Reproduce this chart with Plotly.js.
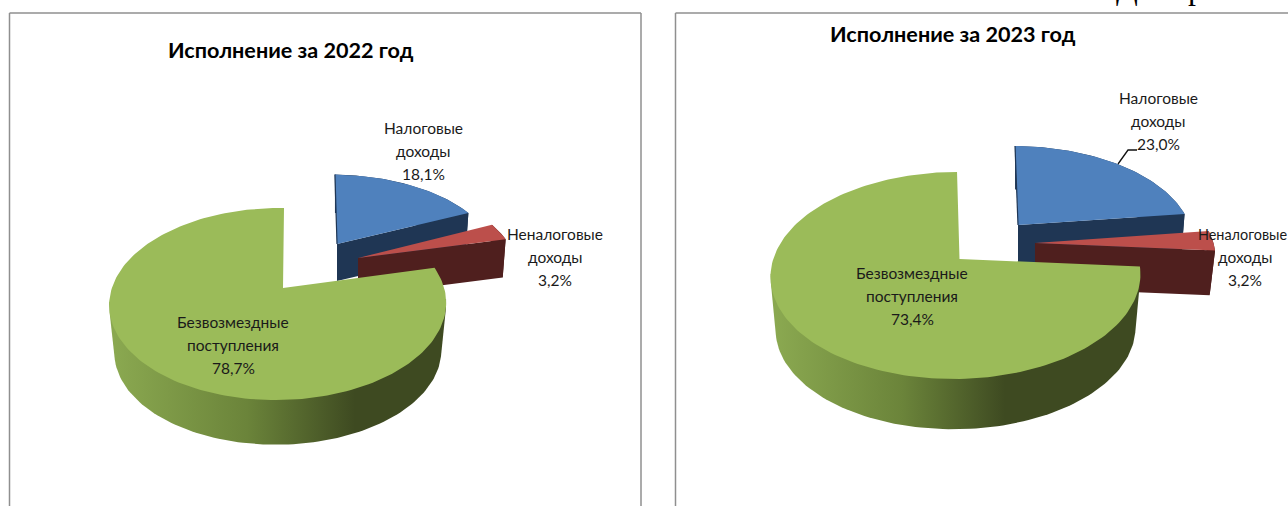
<!DOCTYPE html>
<html><head><meta charset="utf-8">
<script src="https://cdn.plot.ly/plotly-3.0.1.min.js"></script>
<style>html,body{margin:0;padding:0;background:#fff;overflow:hidden}#c{width:1288px;height:506px}</style>
</head><body><div id="c"></div>
<script>
const categories = ["Налоговые доходы", "Неналоговые доходы", "Безвозмездные поступления"];
const values2022 = [18.1, 3.2, 78.7];
const values2023 = [23.0, 3.2, 73.4];
const titles = ["Исполнение за 2022 год", "Исполнение за 2023 год"];
const labelLines = [["Налоговые","доходы"],["Неналоговые","доходы"],["Безвозмездные","поступления"]];
const pageText = ["Д","р"];

const FONT = 'Lato, "Open Sans", "Noto Sans", sans-serif';
const topCol = ["#4f81bd","#bc4f4b","#9bbb59"];
const sideCol = ["#1f3654","#4f1f1e"];
const greenSide = [[0,"#8aa850"],[0.55,"#6b843a"],[1,"#3e4a21"]];

// projected geometry of each exploded slice (pixel scale of the axes)
const geo2022 = [
 {cx:337,cy:244,Rx:160,Ry:81,k:.167,m:-.03,sh:.03,d:37,s:.98},
 {cx:358,cy:258,Rx:162,Ry:87,k:.167,m:-.03,sh:0,d:38,s:.98},
 {cx:283,cy:288,Rx:166,Ry:93.3,k:.167,m:-.03,sh:-.0125,d:48,s:.97,gs:115,ge:355}
];
const geo2023 = [
 {cx:1018,cy:225,Rx:175,Ry:91.6,k:.159,m:-.02,sh:.038,d:42,s:.98},
 {cx:1035,cy:243,Rx:182,Ry:100,k:.159,m:-.02,sh:0,d:45,s:.97},
 {cx:959.5,cy:259,Rx:182.5,Ry:100.9,k:.159,m:-.02,sh:-.017,d:53.5,s:.973,gs:777,ge:1005}
];
const labelPos2022 = [[423,128],[555,234],[233,322]];
const labelPos2023 = [[1158,98],[1245,234],[912,273]];
const titlePos = [[291,50],[953,34]];
const pageTextX = [1127,1196];
const LINE = 23;

function pt(p,deg,bottom){
  const a=deg*Math.PI/180,u=Math.sin(a),v=-Math.cos(a),w=1-p.k*v-p.m*u;
  const dy=p.Ry*v/w,dx=p.Rx*u/w+p.sh*dy;
  return bottom?[p.cx+p.s*dx,p.cy+p.d+p.s*dy]:[p.cx+dx,p.cy+dy];
}
function arc(p,a0,a1,bottom){
  const n=Math.max(6,Math.ceil(Math.abs(a1-a0)/1.5)),o=[];
  for(let i=0;i<=n;i++)o.push(pt(p,a0+(a1-a0)*i/n,bottom));
  return o;
}
function hull(points){
  const s=points.slice().sort((a,b)=>a[0]-b[0]||a[1]-b[1]);
  const cr=(o,a,b)=>(a[0]-o[0])*(b[1]-o[1])-(a[1]-o[1])*(b[0]-o[0]);
  const half=list=>{const h=[];list.forEach(q=>{while(h.length>1&&cr(h[h.length-2],h[h.length-1],q)<=0)h.pop();h.push(q);});h.pop();return h;};
  return half(s).concat(half(s.slice().reverse()));
}
function poly(points,color,extra){
  const c=points.concat([points[0]]);
  return Object.assign({type:"scatter",mode:"lines",x:c.map(q=>q[0]),y:c.map(q=>q[1]),
    fill:"toself",fillcolor:color,line:{width:0,color:color},hoverinfo:"skip"},extra||{});
}
function pieTraces(values,geo){
  const tr=[];let acc=0;const ang=values.map(v=>{const r=[acc,acc+v*3.6];acc+=v*3.6;return r;});
  [0,1].forEach(i=>{
    const p=geo[i],[a0,a1]=ang[i];
    const apexT=[p.cx,p.cy],apexB=[p.cx,p.cy+p.d];
    tr.push(poly(arc(p,a0,a1,false).concat(arc(p,a1,a0,true)),sideCol[i]));
    tr.push(poly([apexT,pt(p,a1,false),pt(p,a1,true),apexB],sideCol[i]));
    tr.push(poly([apexT].concat(arc(p,a0,a1,false)),topCol[i]));
    if(i===0){const e=pt(p,a0,false);tr.push({type:"scatter",mode:"lines",x:[apexT[0],e[0]],y:[apexT[1],e[1]],line:{color:sideCol[0],width:1.2},hoverinfo:"skip"});}
  });
  const p=geo[2],[a0,a1]=ang[2];
  const f0=Math.max(a0,97),f1=262;
  tr.push(poly(hull(arc(p,f0,f1,false).concat(arc(p,f0,f1,true))),"#3e4a21",
    {fillgradient:{type:"horizontal",start:p.gs,stop:p.ge,colorscale:greenSide}}));
  tr.push(poly([[p.cx,p.cy]].concat(arc(p,a0,a1,false)),topCol[2]));
  return tr;
}
function fmt(v){return v.toFixed(1).replace(".",",")+"%";}
function textAnn(text,x,y,size,bold,font,color,ya){
  return {text:bold?"<b>"+text+"</b>":text,x:x,y:y,xref:"x",yref:"y",showarrow:false,xanchor:"center",yanchor:ya||"middle",
    font:{family:font||FONT,size:size,color:color||"#1a1a1a"},captureevents:false};
}
const annotations=[];
[[values2022,labelPos2022],[values2023,labelPos2023]].forEach(([vals,pos],c)=>{
  vals.forEach((v,i)=>{
    const ls=labelLines[i].concat([fmt(v)]);
    ls.forEach((t,j)=>{
      const tight=c===1&&i===1&&j===0;   // the label that reaches the right edge
      annotations.push(textAnn(t,pos[i][0]-(tight?2.5:0),pos[i][1]+j*LINE,tight?14.4:15.5));
    });
  });
  annotations.push(textAnn(titles[c],titlePos[c][0],titlePos[c][1],21.6,true,FONT,"#000"));
});
pageText.forEach((t,i)=>annotations.push(textAnn(t,pageTextX[i],8,32,false,"Liberation Serif","#000","bottom")));
// leader line on the 2023 chart
const leaderX=[1118,1128,1137],leaderY=[164,150,150];
const traces=[].concat(pieTraces(values2022,geo2022),pieTraces(values2023,geo2023),
  [{type:"scatter",mode:"lines",x:leaderX,y:leaderY,line:{color:"#111",width:1.3},hoverinfo:"skip"}]);
const frame={type:"line",xref:"x",yref:"y",line:{color:"#8f8f8f",width:1.5}};
const shapes=[[9.5,13,9.5,506],[9.5,13,641,13],[641,13,641,506],[675.5,13,675.5,506],[675.5,13,1288,13]]
  .map(s=>Object.assign({},frame,{x0:s[0],y0:s[1],x1:s[2],y1:s[3]}));
const axis={visible:false,fixedrange:true,showgrid:false,zeroline:false};
Plotly.newPlot("c",traces,{
  width:1288,height:506,margin:{l:0,r:0,t:0,b:0},showlegend:false,paper_bgcolor:"#fff",plot_bgcolor:"#fff",
  xaxis:Object.assign({range:[0,1288]},axis),yaxis:Object.assign({range:[506,0]},axis),
  shapes:shapes,annotations:annotations
},{displayModeBar:false,staticPlot:true});
</script></body></html>
